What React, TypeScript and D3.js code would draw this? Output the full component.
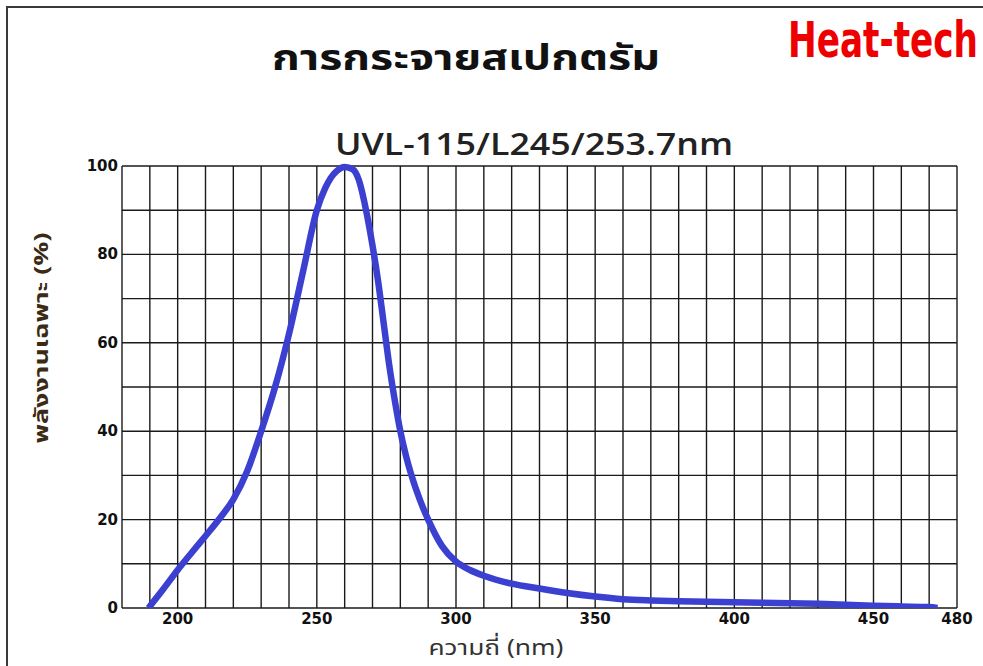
import { useEffect, useRef } from 'react';
import * as d3 from 'd3';

// spectrum: wavelength (nm) and relative power (%)
const wavelengths = [
  189.5, 195, 200, 205, 210, 215, 220, 225, 230, 235, 240, 245, 250, 253, 255, 257, 260,
  263, 265, 268, 270, 272, 274, 276, 278, 280, 282, 284, 287, 290, 295, 300, 305, 310,
  320, 330, 340, 350, 360, 370, 380, 390, 400, 410, 420, 430, 440, 450, 460, 470, 473,
];
const power = [
  0, 4.4, 8.6, 12.5, 16.3, 20.2, 24.6, 31, 40, 50, 62, 76, 90, 95, 97.3, 98.8, 99.8,
  99.2, 97, 89, 82, 74, 64.5, 55, 47, 40, 34.5, 30, 24.5, 20, 14, 10.5, 8.6, 7.3,
  5.5, 4.4, 3.4, 2.6, 2.0, 1.7, 1.5, 1.4, 1.3, 1.2, 1.1, 0.95, 0.75, 0.5, 0.35, 0.2, 0,
];

const xLabels = [200, 250, 300, 350, 400, 450, 480];
const yLabels = [0, 20, 40, 60, 80, 100];

const title = 'การกระจายสเปกตรัม';
const subtitle = 'UVL-115/L245/253.7nm';
const brand = 'Heat-tech';
const xTitle = 'ความถี่ (nm)';
const yTitle = 'พลังงานเฉพาะ (%)';

const W = 983;
const H = 666;

export default function App() {
  const svgRef = useRef<SVGSVGElement>(null);

  useEffect(() => {
    if (!svgRef.current) return;
    const svg = d3.select(svgRef.current);
    svg.selectAll('*').remove();

    const left = 122, right = 957, top = 166, bottom = 608;
    const x = d3.scaleLinear().domain([180, 480]).range([left, right]);
    const y = d3.scaleLinear().domain([0, 100]).range([bottom, top]);

    svg.append('rect').attr('width', W).attr('height', H).attr('fill', '#fff');

    // outer frame (top and left edges visible)
    svg.append('path')
      .attr('d', `M7,${H} L7,7 L${W},7`)
      .attr('fill', 'none')
      .attr('stroke', '#3a3a3a')
      .attr('stroke-width', 2);

    // Titles
    svg.append('text')
      .attr('x', 466).attr('y', 70)
      .attr('text-anchor', 'middle')
      .attr('font-family', '"Noto Sans Thai", "Noto Sans", "DejaVu Sans", sans-serif')
      .attr('font-weight', 'bold')
      .attr('font-size', 36)
      .attr('fill', '#111')
      .attr('textLength', 388)
      .attr('lengthAdjust', 'spacingAndGlyphs')
      .text(title);

    svg.append('text')
      .attr('x', 534).attr('y', 155)
      .attr('text-anchor', 'middle')
      .attr('font-family', '"Open Sans", "Noto Sans", sans-serif')
      .attr('font-weight', 600)
      .attr('font-size', 31)
      .attr('fill', '#222')
      .attr('textLength', 398)
      .attr('lengthAdjust', 'spacingAndGlyphs')
      .text(subtitle);

    // brand mark: tall condensed red lettering
    svg.append('g')
      .attr('transform', 'translate(788,57) scale(1,1.3)')
      .append('text')
      .attr('font-family', '"DejaVu Sans Condensed", "DejaVu Sans", sans-serif')
      .attr('font-weight', 'bold')
      .attr('font-size', 38)
      .attr('fill', '#ee0000')
      .attr('textLength', 190)
      .attr('lengthAdjust', 'spacingAndGlyphs')
      .text(brand);

    // Grid
    const g = svg.append('g');
    g.selectAll('line.v')
      .data(d3.range(180, 481, 10))
      .join('line')
      .attr('x1', d => x(d)).attr('x2', d => x(d))
      .attr('y1', top).attr('y2', bottom)
      .attr('stroke', '#1a1a1a').attr('stroke-width', 1.4);
    g.selectAll('line.h')
      .data(d3.range(0, 101, 10))
      .join('line')
      .attr('x1', left).attr('x2', right)
      .attr('y1', d => y(d)).attr('y2', d => y(d))
      .attr('stroke', '#1a1a1a').attr('stroke-width', 1.4);

    // Tick labels
    g.selectAll('text.xl')
      .data(xLabels)
      .join('text')
      .attr('x', d => x(d)).attr('y', 624)
      .attr('text-anchor', 'middle')
      .attr('font-family', '"DejaVu Sans", sans-serif')
      .attr('font-weight', 'bold')
      .attr('font-size', 15)
      .attr('fill', '#111')
      .text(d => d);

    g.selectAll('text.yl')
      .data(yLabels)
      .join('text')
      .attr('x', 118).attr('y', d => y(d) + 5)
      .attr('text-anchor', 'end')
      .attr('font-family', '"DejaVu Sans", sans-serif')
      .attr('font-weight', 'bold')
      .attr('font-size', 15)
      .attr('fill', '#111')
      .text(d => d);

    // Axis titles
    svg.append('text')
      .attr('x', 496).attr('y', 655)
      .attr('text-anchor', 'middle')
      .attr('font-family', '"Noto Sans Thai", "Noto Sans", "DejaVu Sans", sans-serif')
      .attr('font-size', 22)
      .attr('fill', '#333')
      .attr('textLength', 135)
      .attr('lengthAdjust', 'spacingAndGlyphs')
      .text(xTitle);

    svg.append('text')
      .attr('transform', 'translate(48,338) rotate(-90)')
      .attr('text-anchor', 'middle')
      .attr('font-family', '"Noto Sans Thai", "Noto Sans", "DejaVu Sans", sans-serif')
      .attr('font-weight', 'bold')
      .attr('font-size', 19)
      .attr('fill', '#3b2a14')
      .attr('textLength', 211)
      .attr('lengthAdjust', 'spacingAndGlyphs')
      .text(yTitle);

    // Spectrum curve
    svg.append('defs').append('clipPath').attr('id', 'plot-clip')
      .append('rect')
      .attr('x', left).attr('y', top - 6)
      .attr('width', right - left).attr('height', bottom - top + 6);

    const line = d3.line<number>()
      .x((_, i) => x(wavelengths[i]))
      .y(d => y(d))
      .curve(d3.curveMonotoneX);

    svg.append('path')
      .datum(power)
      .attr('clip-path', 'url(#plot-clip)')
      .attr('fill', 'none')
      .attr('stroke', '#3c40d0')
      .attr('stroke-width', 6.5)
      .attr('stroke-linejoin', 'round')
      .attr('d', line);
  }, []);

  return (
    <svg
      ref={svgRef}
      width={W}
      height={H}
      style={{ position: 'fixed', left: 0, top: 0, display: 'block' }}
    />
  );
}
